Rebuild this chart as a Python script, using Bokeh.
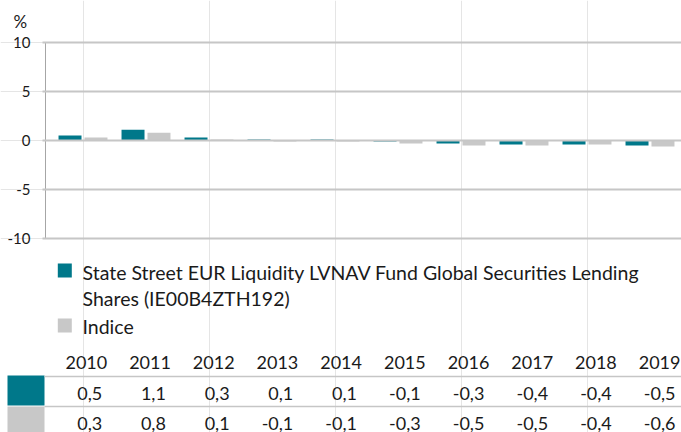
from bokeh.plotting import figure
from bokeh.models import Range1d, ColumnDataSource, FixedTicker, LinearAxis
from bokeh.transform import dodge
from bokeh.core.properties import value
from bokeh.embed import file_html
from bokeh.resources import INLINE

# ---- data ----
years = ["2010", "2011", "2012", "2013", "2014", "2015", "2016", "2017", "2018", "2019"]
fund = [0.5, 1.1, 0.3, 0.1, 0.1, -0.1, -0.3, -0.4, -0.4, -0.5]
indice = [0.3, 0.8, 0.1, -0.1, -0.1, -0.3, -0.5, -0.5, -0.4, -0.6]
series_names = ["State Street EUR Liquidity LVNAV Fund Global Securities Lending\nShares (IE00B4ZTH192)",
                "Indice"]
y_ticks = [-10, -5, 0, 5, 10]
unit_label = "%"

# ---- style ----
TEAL = "#00788a"
GREY = "#c8c8c8"
GRID = "#c6c6c6"
AXIS = "#a6a6a6"
TEXT = "#1a1a1a"
FONT = "Lato"
colors = [TEAL, GREY]

# ---- layout geometry (pixels) ----
W, H = 681, 432
PLOT_LEFT, PLOT_TOP, PLOT_BOTTOM = 45, 42, 238
GROUP_PITCH, FIRST_CENTER = 63.0, 82.5
Y_MIN, Y_MAX = y_ticks[0], y_ticks[-1]
PX_PER_UNIT = (PLOT_BOTTOM - PLOT_TOP) / (Y_MAX - Y_MIN)


def px_x(px):
    return (px - FIRST_CENTER) / GROUP_PITCH


def px_y(py):
    return Y_MAX - (py - PLOT_TOP) / PX_PER_UNIT


def fmt(v):
    return f"{v:.1f}".replace(".", ",")


n = len(years)
src = ColumnDataSource(dict(x=list(range(n)), year=years, fund=fund, indice=indice))

p = figure(width=W, height=H, x_range=Range1d(px_x(0), px_x(W)), y_range=Range1d(px_y(H), px_y(0)),
           output_backend="svg", toolbar_location=None, x_axis_location=None,
           y_axis_location=None, min_border=0)
p.outline_line_color = None

# y axis drawn at the chart's left edge; its inward ticks form the grid lines
yax = LinearAxis(ticker=FixedTicker(ticks=y_ticks), fixed_location=px_x(PLOT_LEFT),
                 bounds=(Y_MIN, Y_MAX))
yax.major_label_overrides = {t: str(t) for t in y_ticks}
yax.axis_line_color = AXIS
yax.major_tick_out = 3
yax.major_tick_in = W - PLOT_LEFT
yax.major_tick_line_color = GRID
yax.major_tick_line_width = 2
yax.minor_tick_line_color = None
yax.major_label_standoff = 12
yax.major_label_text_font = FONT
yax.major_label_text_font_size = "15px"
yax.major_label_text_color = TEXT
p.add_layout(yax, "left")

p.vbar(x=dodge("x", -0.206), top="fund", bottom=0, width=0.365, source=src,
       fill_color=TEAL, line_color=None)
p.vbar(x=dodge("x", 0.206), top="indice", bottom=0, width=0.365, source=src,
       fill_color=GREY, line_color=None)

p.text(x=[px_x(13)], y=[px_y(21)], text=[unit_label], text_font=value(FONT), text_font_size="17px",
       text_color=TEXT, text_baseline="middle", text_align="left")

# ---- legend ----
p.rect(x=[px_x(64.3)] * 2, y=[px_y(270), px_y(325)], width=14, height=14, width_units="screen",
       height_units="screen", fill_color=colors, line_color=None)
leg_lines, leg_y = [], []
line_y = {0: [271.5, 298], 1: [326]}
for k, name in enumerate(series_names):
    for j, line in enumerate(name.split("\n")):
        leg_lines.append(line)
        leg_y.append(px_y(line_y[k][j]))
p.text(x=[px_x(82)] * len(leg_lines), y=leg_y, text=leg_lines, text_font=value(FONT),
       text_font_size="19.5px", text_color=TEXT, text_baseline="middle", text_align="left")

# ---- table ----
TABLE_LEFT = 44
COL_W = (W - TABLE_LEFT) / n
col_right = [px_x(TABLE_LEFT + COL_W * (i + 1)) for i in range(n)]
p.text(x=col_right, y=[px_y(362)] * n, text=years, x_offset=-1, text_font=value(FONT),
       text_font_size="18px", text_color=TEXT, text_baseline="middle", text_align="right")
p.text(x=col_right, y=[px_y(392.5)] * n, text=[fmt(v) for v in fund], x_offset=-6,
       text_font=value(FONT), text_font_size="18px", text_color=TEXT, text_baseline="middle",
       text_align="right")
p.text(x=col_right, y=[px_y(422.5)] * n, text=[fmt(v) for v in indice], x_offset=-6,
       text_font=value(FONT), text_font_size="18px", text_color=TEXT, text_baseline="middle",
       text_align="right")
p.quad(left=[px_x(7)] * 2, right=[px_x(TABLE_LEFT)] * 2, top=[px_y(375), px_y(406)],
       bottom=[px_y(405), px_y(440)], fill_color=colors, line_color=None)
p.segment(x0=[px_x(TABLE_LEFT)] * 2, x1=[px_x(W)] * 2, y0=[px_y(376), px_y(406)],
          y1=[px_y(376), px_y(406)], line_color=GRID, line_width=1.5)

open("out.html", "w").write(file_html(p, INLINE))
